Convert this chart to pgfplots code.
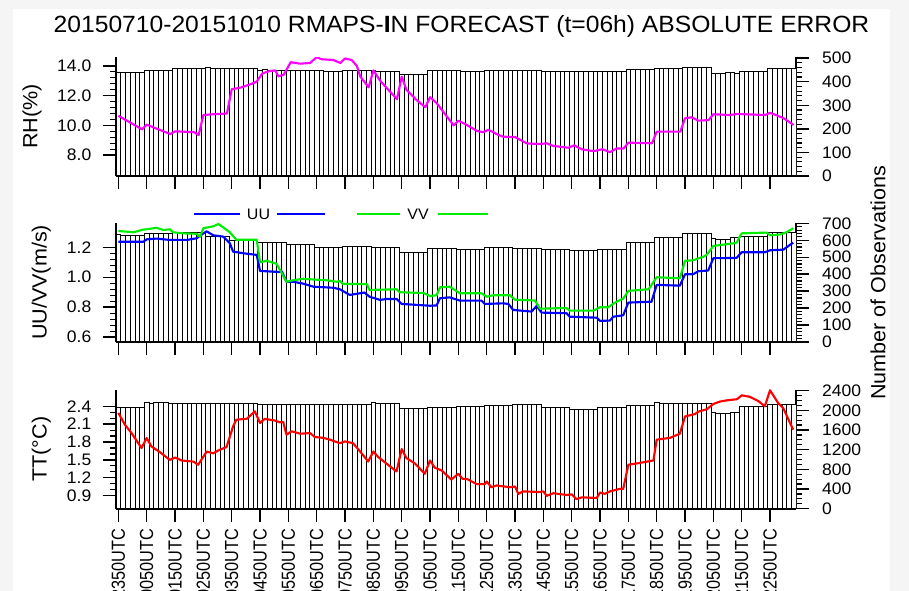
\documentclass[border=0pt]{standalone}
\usepackage{fontspec}
\setmainfont{Liberation Sans}[FakeStretch=1.05]
\newfontfamily\narrowfont{Liberation Sans}[FakeStretch=0.86]
\usepackage{pgfplots}
\usepackage{pgfplotstable}
\pgfplotsset{compat=1.18}

\definecolor{rhline}{RGB}{255,0,255}
\definecolor{uuline}{RGB}{0,0,255}
\definecolor{vvline}{RGB}{0,236,0}
\definecolor{ttline}{RGB}{255,0,0}
\definecolor{pagebg}{RGB}{245,245,245}

\newcommand\tickfont{\fontsize{12.5}{13}\selectfont}
\newcommand\labfont{\fontsize{15.4}{16}\selectfont}
\newcommand\timefont{\narrowfont\fontsize{14.2}{15}\selectfont}

% Number of observations in each 10-minute slot (slot 0 = 2350UTC)
\pgfplotstableread{
slot rh wind tt
0 442 638 2068
1 442 632 2068
2 442 632 2068
3 442 632 2068
4 442 632 2068
5 442 632 2068
6 450 641 2170
7 450 641 2150
8 450 641 2170
9 450 641 2170
10 450 641 2160
11 448 641 2150
12 455 647 2135
13 455 647 2135
14 455 647 2135
15 455 647 2140
16 455 647 2135
17 455 647 2135
18 458 640 2142
19 461 624 2142
20 458 624 2142
21 458 624 2142
22 458 624 2142
23 458 624 2142
24 455 602 2150
25 455 602 2150
26 455 602 2150
27 455 602 2150
28 455 602 2150
29 455 602 2150
30 450 586 2115
31 451 586 2115
32 450 586 2115
33 450 586 2115
34 450 586 2115
35 450 586 2115
36 448 575 2128
37 448 575 2128
38 448 575 2128
39 448 575 2128
40 448 575 2128
41 448 575 2128
42 448 559 2122
43 448 559 2122
44 443 559 2122
45 443 559 2122
46 443 559 2122
47 443 559 2122
48 450 567 2128
49 450 567 2128
50 450 567 2128
51 450 567 2128
52 450 567 2128
53 450 567 2128
54 450 561 2165
55 446 561 2135
56 446 561 2135
57 446 561 2135
58 446 561 2135
59 446 561 2135
60 431 532 2034
61 431 530 2034
62 431 532 2034
63 431 528 2034
64 431 532 2034
65 431 532 2034
66 450 553 2060
67 450 553 2060
68 450 553 2060
69 450 553 2060
70 450 553 2060
71 450 553 2060
72 450 549 2081
73 443 549 2081
74 443 549 2081
75 443 549 2081
76 443 549 2081
77 443 549 2081
78 449 557 2095
79 449 557 2095
80 449 557 2095
81 449 557 2095
82 449 557 2095
83 449 557 2095
84 449 552 2128
85 449 552 2128
86 449 552 2128
87 449 552 2128
88 449 552 2128
89 449 552 2128
90 446 545 2055
91 446 545 2055
92 446 545 2055
93 446 545 2055
94 446 545 2055
95 446 545 2055
96 446 541 2027
97 446 541 2027
98 446 541 2027
99 446 541 2027
100 446 541 2027
101 446 541 2027
102 446 548 2068
103 446 548 2068
104 446 548 2068
105 446 548 2068
106 446 548 2068
107 446 548 2068
108 453 588 2108
109 453 588 2108
110 453 588 2108
111 453 588 2108
112 453 588 2108
113 453 588 2108
114 458 620 2160
115 458 620 2142
116 458 620 2142
117 458 620 2142
118 458 620 2142
119 458 620 2142
120 460 643 2150
121 460 643 2150
122 461 643 2150
123 460 643 2150
124 460 643 2150
125 460 643 2150
126 436 612 1960
127 436 605 1945
128 436 605 1945
129 440 605 1945
130 440 615 1960
131 435 618 1960
132 446 624 2088
133 446 624 2088
134 446 624 2088
135 446 624 2088
136 446 624 2088
137 446 624 2088
138 455 647 2122
139 455 647 2122
140 455 647 2122
141 455 647 2122
142 455 647 2122
143 455 647 2122
}\obscount

\pgfplotsset{
  panel/.style={
    scale only axis, width=510pt, height=89.25pt,
    xmin=-0.5, xmax=143.5, anchor=south west,
    tick align=outside,
    major tick length=10pt, minor tick length=4.5pt,
    every tick/.append style={black, line width=1.1pt},
    every minor tick/.append style={line width=0.9pt},
    axis line style={black, line width=1.3pt, -},
    tick label style={font=\tickfont},
    /pgf/number format/assume math mode=true,
    /pgf/number format/1000 sep={},
    scaled ticks=false,
  },
  counts/.style={panel,
    axis x line=none, axis y line*=right,
    ymin=0, yticklabel style={anchor=west}, yticklabel shift=6pt,
  },
  errors/.style={panel,
    axis x line*=bottom, axis y line*=left,
    xtick={0,6,...,138}, xticklabels={}, minor x tick num=0,
    yticklabel style={anchor=east, /pgf/number format/.cd, fixed, fixed zerofill, precision=1},
    yticklabel shift=5pt,
    ylabel style={font=\labfont, anchor=center},
  },
  obsbar/.style={ybar, bar width=1, bar shift=0pt, fill=white, draw=black, line width=0.45pt},
  errline/.style={line width=1.6pt, no markers, line join=round},
}

\begin{document}
\begin{tikzpicture}
\useasboundingbox (0,0) rectangle (681.75pt,-443.25pt);
\clip (0,0) rectangle (681.75pt,-443.25pt);
\fill[pagebg] (0,0) rectangle (681.75pt,-443.25pt);
\fill[white] (10pt,-6.75pt) rectangle (667.5pt,-443.25pt);

% ---------- RH ----------
\begin{axis}[counts, at={(87pt,-132pt)}, ymax=505, ytick={0,100,...,500}, minor y tick num=4]
  \addplot[obsbar] table[x=slot, y=rh] {\obscount};
\end{axis}
\begin{axis}[errors, at={(87pt,-132pt)}, ymin=6.6, ymax=14.6, ytick={8,10,12,14},
  minor y tick num=4, ylabel={RH(\%)},
  ylabel style={at={(axis description cs:-0.1235,0.5)}}]
  \addplot[errline, rhline] coordinates {
    (0,10.65) (5,9.74) (6,10.05) (11,9.42) (12,9.6) (16,9.55) (17,9.35) (18,10.7)
    (20,10.75) (23,10.8) (24,12.43) (26,12.55) (28.5,12.83) (29.3,12.95) (30.5,13.5)
    (32,13.65) (33.2,13.7) (33.9,13.3) (35,13.4) (36.5,14.25) (38.5,14.15) (40.6,14.2)
    (42,14.59) (43,14.45) (45.5,14.4) (47,14.2) (48,14.5) (49.4,14.4) (50.5,14.0)
    (51.2,13.3) (53,12.56) (54,13.7) (55.5,12.98) (59,11.76) (60,13.28) (61,12.4)
    (63,11.75) (65,11.22) (66,11.9) (67.4,11.5) (71,10.0) (72,10.32) (73.4,10.1)
    (76,9.62) (77.3,9.55) (78.3,9.7) (79.4,9.55) (80.2,9.4) (81.5,9.24) (84,9.22)
    (86.5,8.79) (89.3,8.75) (90.7,8.8) (92.1,8.62) (95.3,8.5) (96.5,8.66) (98.1,8.4)
    (100.6,8.27) (102.5,8.4) (104.1,8.2) (105.5,8.45) (107,8.45) (108,8.84) (113,8.8)
    (114,9.58) (119,9.58) (120,10.48) (121.4,10.55) (122.8,10.32) (125,10.36)
    (126,10.75) (129.5,10.7) (131,10.77) (137,10.7) (138,10.85) (140.8,10.5) (143,10.03)
  };
\end{axis}

% ---------- UU / VV ----------
\begin{axis}[counts, at={(87pt,-256.5pt)}, ymax=702, ytick={0,100,...,700}, minor y tick num=4]
  \addplot[obsbar] table[x=slot, y=wind] {\obscount};
\end{axis}
\begin{axis}[errors, at={(87pt,-256.5pt)}, ymin=0.568, ymax=1.362, ytick={0.6,0.8,1.0,1.2},
  minor y tick num=4, ylabel={UU/VV(m/s)},
  ylabel style={at={(axis description cs:-0.110,0.5)}}]
  \addplot[errline, uuline] coordinates {
    (0,1.237) (5.3,1.237) (6,1.253) (8.1,1.258) (10.9,1.249) (14.5,1.249) (16.6,1.26)
    (18,1.293) (18.7,1.306) (20.1,1.28) (22.2,1.271) (23.6,1.227) (24.3,1.171)
    (26.5,1.16) (29.3,1.149) (30,1.042) (34.2,1.035) (34.6,1.04) (35.6,0.97) (37,0.97)
    (39.2,0.957) (41.3,0.937) (45.5,0.93) (46.9,0.92) (49,0.882) (52.1,0.898)
    (53.2,0.87) (55.4,0.849) (56.8,0.855) (58.9,0.855) (60,0.822) (66,0.81)
    (67.4,0.812) (68.1,0.86) (70.2,0.866) (72.3,0.844) (76.9,0.844) (77.6,0.822)
    (81.5,0.826) (82.6,0.822) (83.6,0.782) (87.5,0.771) (88.6,0.809) (89.6,0.764)
    (94.9,0.76) (95.6,0.737) (101.3,0.73) (102,0.709) (104.1,0.711) (104.8,0.737)
    (106.9,0.746) (108,0.831) (112.9,0.837) (114,0.949) (118.9,0.944) (120,1.02)
    (121.7,1.02) (122.8,1.04) (124.9,1.045) (126,1.127) (130.9,1.129) (132,1.167)
    (136.9,1.167) (138,1.18) (140.8,1.184) (142.9,1.231)
  };
  \addplot[errline, vvline] coordinates {
    (0,1.309) (3.2,1.30) (5.3,1.318) (6,1.32) (8.1,1.33) (9.5,1.315) (10.9,1.32)
    (11.6,1.30) (13.7,1.293) (16.6,1.29) (17.3,1.27) (18,1.327) (20.1,1.34)
    (21.2,1.355) (22.2,1.333) (23.6,1.30) (25,1.25) (29.3,1.25) (30,1.10) (31.4,1.11)
    (33.5,1.09) (35.6,0.97) (37,0.98) (39.2,0.99) (41.3,0.985) (44.1,0.98) (46.2,0.97)
    (46.9,0.975) (47.6,0.955) (52.6,0.955) (53.2,0.915) (58.9,0.92) (59.6,0.90)
    (64.6,0.895) (66,0.875) (67.4,0.88) (68.1,0.933) (70.2,0.937) (72.3,0.893)
    (76.9,0.893) (78,0.87) (79.4,0.88) (82.9,0.88) (84,0.85) (88.2,0.845) (89.3,0.79)
    (94.9,0.795) (95.6,0.777) (100.6,0.777) (102,0.80) (103.7,0.80) (105.5,0.837)
    (106.9,0.857) (108,0.909) (112.3,0.92) (114,1.0) (118.9,0.993) (120,1.11)
    (121.7,1.113) (123.9,1.137) (124.6,1.15) (126,1.209) (130.2,1.226) (130.9,1.23)
    (132,1.293) (137.3,1.298) (138,1.28) (140.1,1.285) (141.5,1.30) (142.9,1.327)
  };
\end{axis}

% ---------- TT ----------
\begin{axis}[counts, at={(87pt,-381.5pt)}, ymax=2420, ytick={0,400,...,2400}, minor y tick num=3]
  \addplot[obsbar] table[x=slot, y=tt] {\obscount};
\end{axis}
\begin{axis}[errors, at={(87pt,-381.5pt)}, ymin=0.68, ymax=2.68, ytick={0.9,1.2,1.5,1.8,2.1,2.4},
  minor y tick num=2, ylabel={TT(\textdegree C)},
  ylabel style={at={(axis description cs:-0.110,0.5)}},
  xticklabels={2350UTC,0050UTC,0150UTC,0250UTC,0350UTC,0450UTC,0550UTC,0650UTC,
    0750UTC,0850UTC,0950UTC,1050UTC,1150UTC,1250UTC,1350UTC,1450UTC,1550UTC,
    1650UTC,1750UTC,1850UTC,1950UTC,2050UTC,2150UTC,2250UTC},
  xticklabel style={rotate=90, anchor=east, font=\timefont},
  xticklabel shift=1.5pt]
  \addplot[errline, ttline] coordinates {
    (0,2.289) (1.4,2.09) (2.8,1.95) (4.9,1.70) (6,1.867) (7,1.726) (8.8,1.63)
    (10.9,1.50) (12,1.54) (13.4,1.49) (15.9,1.47) (16.9,1.418) (18.7,1.64) (20.1,1.61)
    (21.2,1.66) (22.9,1.716) (24.3,2.063) (25,2.176) (27.2,2.19) (28.9,2.316) (30,2.12)
    (31,2.19) (33.2,2.16) (34.2,2.13) (34.9,2.14) (35.6,1.923) (36.7,1.98) (38.5,1.94)
    (40.6,1.95) (41.6,1.884) (43.4,1.87) (44.8,1.84) (46.9,1.78) (48,1.81) (49.7,1.78)
    (51.2,1.64) (52.9,1.473) (54,1.64) (55,1.55) (58.9,1.305) (60,1.682) (61,1.53)
    (62.8,1.44) (64.9,1.266) (66,1.49) (67,1.37) (68.5,1.32) (70.5,1.17) (72,1.266)
    (72.9,1.18) (73.8,1.18) (75.9,1.092) (77.6,1.092) (78,1.136) (79,1.04) (80.1,1.07)
    (82.9,1.04) (84,1.052) (84.7,0.929) (85.7,0.97) (89.3,0.96) (90,0.97) (90.7,0.895)
    (92.1,0.94) (94.9,0.91) (96,0.92) (97,0.84) (98.1,0.87) (101.3,0.86) (102,0.951)
    (103,0.93) (104.1,0.97) (106.2,1.013) (106.9,1.01) (108,1.418) (109,1.43)
    (110.5,1.45) (113.3,1.49) (114,1.84) (116.8,1.87) (118.9,1.94) (120,2.23)
    (122.1,2.27) (122.8,2.31) (124.6,2.35) (126,2.44) (127.4,2.48) (128.8,2.50)
    (131,2.52) (132,2.585) (133.7,2.56) (135.5,2.49) (136.9,2.40) (138,2.67)
    (139.7,2.457) (140.8,2.37) (142.9,2.007)
  };
\end{axis}

\begin{scope}[x=0.75pt, y=-0.75pt]
  % title
  \node[anchor=base, inner sep=0pt, font=\fontsize{17.6}{18}\selectfont]
    at (461.5,32.3) {20150710-20151010 RMAPS-\textbf{I}N FORECAST (t=06h) ABSOLUTE ERROR};
  % shared right-hand axis title
  \node[rotate=90, anchor=center, inner sep=0pt, font=\labfont]
    at (878,283) {Number of Observations};
  % line key of the wind panel
  \draw[uuline, line width=1.6pt] (194,214) -- (240,214) (277,214) -- (325,214);
  \node[anchor=base, inner sep=0pt, font=\fontsize{11.4}{12}\selectfont] at (258.5,219.5) {UU};
  \draw[vvline, line width=1.6pt] (357,214) -- (400,214) (438,214) -- (488,214);
  \node[anchor=base, inner sep=0pt, font=\fontsize{11.4}{12}\selectfont] at (418,219.5) {VV};
\end{scope}
\end{tikzpicture}
\end{document}
